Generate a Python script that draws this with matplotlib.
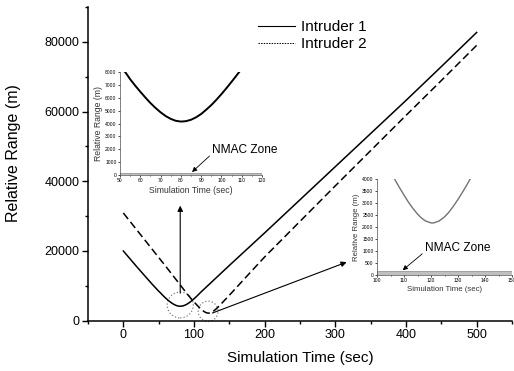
import numpy as np
import matplotlib
matplotlib.use('Agg')
import matplotlib.pyplot as plt
from matplotlib.patches import Ellipse
from matplotlib.lines import Line2D

plt.rcParams['font.family'] = ['Liberation Sans', 'DejaVu Sans']

# intruder 1 (solid) - relative range vs time
t1 = [0, 20, 40, 50, 53, 55, 57.5, 60, 62.5, 65, 67.5, 70, 72.5, 75, 77.5, 80,
      82.5, 85, 87.5, 90, 92.5, 95, 97.5, 100, 102.5, 105, 107.5, 110,
      120, 150, 200, 250, 300, 350, 400, 450, 500]
r1 = [20000, 15250, 10650, 8470, 7900, 7440, 6940, 6470, 6020, 5590, 5210, 4870,
      4580, 4360, 4210, 4150, 4180, 4290, 4480, 4740, 5070, 5430, 5840, 6280,
      6750, 7240, 7740, 8250, 10150, 15850, 25200, 34700, 44200, 53700,
      63200, 72900, 82700]

# intruder 2 (dashed)
t2 = [0, 20, 40, 60, 80, 90, 97, 100, 105, 107, 108.5, 110, 111.5, 113, 115,
      116.5, 118, 120, 121, 123, 125, 126.5, 128, 130, 131.5, 133, 135, 140,
      150, 165, 179, 200, 250, 300, 350, 400, 450, 500]
r2 = [30900, 25800, 20700, 15600, 10400, 7750, 6050, 5380, 4310, 3900, 3610,
      3330, 3060, 2820, 2540, 2370, 2250, 2170, 2170, 2250, 2420, 2600, 2820,
      3150, 3420, 3700, 4100, 5160, 7300, 10600, 13700, 18300, 28500, 38700,
      48800, 58900, 68900, 79000]

nmac = 152  # NMAC zone height (m)

W, H = 514, 371
fig = plt.figure(figsize=(W / 100, H / 100), dpi=100)

# main axes
ax = fig.add_axes([88 / W, 1 - 320.7 / H, 424 / W, 313.7 / H])
ax.plot(t1, r1, color='k', lw=1.1)
ax.plot(t2, r2, color='k', lw=1.1, linestyle=(0, (5, 2.5)))
ax.set_xlim(-50, 550)
ax.set_ylim(0, 90000)
ax.set_xticks([0, 100, 200, 300, 400, 500])
ax.set_xticks([-50, 50, 150, 250, 350, 450, 550], minor=True)
ax.set_yticks([0, 20000, 40000, 60000, 80000])
ax.set_yticks([10000, 30000, 50000, 70000, 90000], minor=True)
ax.tick_params(which='major', length=4, width=1, labelsize=9, pad=2)
ax.tick_params(which='minor', length=2.5, width=1)
for s in ['top', 'right']:
    ax.spines[s].set_visible(False)
for s in ['left', 'bottom']:
    ax.spines[s].set_linewidth(1.1)
ax.set_xlabel('Simulation Time (sec)', fontsize=11)
ax.set_ylabel('Relative Range (m)', fontsize=11.5)
ax.xaxis.set_label_coords(0.5, -0.095)
ax.yaxis.set_label_coords(-0.158, 0.535)

# dotted circles around closest approaches
ax.add_patch(Ellipse((80.5, 4500), 37, 7400, fill=False, ls=':', lw=0.9,
                     ec='0.5', clip_on=False))
ax.add_patch(Ellipse((120, 2700), 28, 5800, fill=False, ls=':', lw=0.9,
                     ec='0.5', clip_on=False))

# arrows to insets
ax.annotate('', xy=(80.5, 33000), xytext=(80.5, 7900),
            arrowprops=dict(arrowstyle='-|>', lw=0.8, color='k',
                            mutation_scale=8, shrinkA=0, shrinkB=0))
ax.annotate('', xy=(316, 16800), xytext=(126, 2200),
            arrowprops=dict(arrowstyle='-|>', lw=0.8, color='k',
                            mutation_scale=8, shrinkA=0, shrinkB=0))

# legend
handles = [Line2D([], [], color='k', lw=0.8),
           Line2D([], [], color='k', lw=0.7, linestyle=(0, (1.5, 1.2)))]
fig.legend(handles, ['Intruder 1', 'Intruder 2'], loc='upper left',
           bbox_to_anchor=(258 / W, 1 - 20 / H), frameon=False, fontsize=11,
           handlelength=2.4, handletextpad=0.4, labelspacing=0.2,
           borderpad=0, borderaxespad=0)


def inset(rect, t, r, xlim, ylim, xmaj, xmin, ymaj, color, lw,
          lab_fs, note_xy, note_text_xy):
    a = fig.add_axes(rect)
    a.set_facecolor('none')
    a.axhspan(0, nmac, facecolor='0.75', edgecolor='0.45', lw=0.4)
    a.plot(t, r, color=color, lw=lw)
    a.set_xlim(*xlim)
    a.set_ylim(*ylim)
    a.set_xticks(xmaj)
    a.set_xticks(xmin, minor=True)
    a.set_yticks(ymaj)
    a.tick_params(which='major', length=1.5, width=0.5, labelsize=3.6, pad=1)
    a.tick_params(which='minor', length=1, width=0.5)
    for s in ['top', 'right']:
        a.spines[s].set_visible(False)
    for s in ['left', 'bottom']:
        a.spines[s].set_linewidth(0.5)
        a.spines[s].set_color('0.3')
    a.set_xlabel('Simulation Time (sec)', fontsize=lab_fs, labelpad=1.5,
                 color='0.2')
    a.set_ylabel('Relative Range (m)', fontsize=lab_fs, labelpad=1.5,
                 color='0.2')
    a.annotate('NMAC Zone', xy=note_xy, xytext=note_text_xy, fontsize=8.6,
               ha='left', va='center',
               arrowprops=dict(arrowstyle='-|>', lw=0.6, color='k',
                               mutation_scale=7, shrinkA=0, shrinkB=0,
                               relpos=(0, 0.2)))
    return a


inset([120 / W, 1 - 175 / H, 142 / W, 103 / H], t1, r1, (50, 120), (0, 8000),
      list(range(50, 121, 10)), list(range(55, 120, 10)),
      list(range(0, 8001, 1000)), 'k', 1.4, 6.2, (85.5, 230), (95.5, 1950))

inset([377 / W, 1 - 275 / H, 135 / W, 96 / H], t2, r2, (100, 150), (0, 4000),
      list(range(100, 151, 10)), list(range(105, 150, 10)),
      list(range(0, 4001, 500)), '0.45', 1.0, 5.6, (109.5, 200), (117.8, 1130))

fig.savefig('out.png', dpi=100)
